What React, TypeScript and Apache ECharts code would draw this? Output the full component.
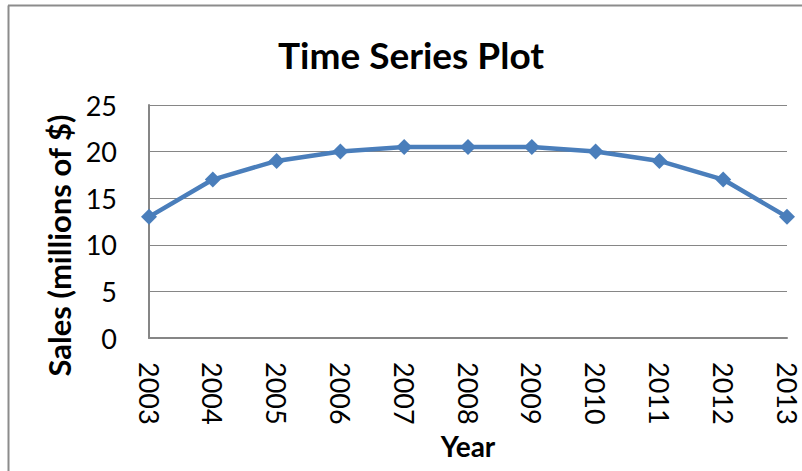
import React, { useEffect, useRef } from "react";
import * as echarts from "echarts";

const years = ["2003", "2004", "2005", "2006", "2007", "2008", "2009", "2010", "2011", "2012", "2013"];
const sales = [13, 17, 19, 20, 20.5, 20.5, 20.5, 20, 19, 17, 13];
const titleText = "Time Series Plot";
const yName = "Sales (millions of $)";
const xName = "Year";

const FONT = "Lato, 'Open Sans', sans-serif";

export default function App() {
  const ref = useRef<HTMLDivElement>(null);
  useEffect(() => {
    const chart = echarts.init(ref.current!, null, { renderer: "svg" });
    chart.setOption({
      animation: false,
      backgroundColor: "#ffffff",
      textStyle: { fontFamily: FONT },
      graphic: [
        { type: "line", shape: { x1: 8.5, y1: 5.5, x2: 8.5, y2: 480 }, style: { stroke: "#8c8c8c", lineWidth: 2 } },
        { type: "line", shape: { x1: 8, y1: 5.5, x2: 810, y2: 5.5 }, style: { stroke: "#8c8c8c", lineWidth: 2 } },
        {
          type: "text",
          x: 411,
          y: 54,
          style: {
            text: titleText,
            font: `bold 37px ${FONT}`,
            fill: "#000",
            textAlign: "center",
            textVerticalAlign: "middle",
          },
        },
      ],
      grid: { left: 149, right: 15, top: 105, bottom: 133, containLabel: false },
      xAxis: {
        type: "category",
        data: years,
        boundaryGap: false,
        name: xName,
        nameLocation: "middle",
        nameGap: 94,
        nameTextStyle: { fontFamily: FONT, fontWeight: "bold", fontSize: 28, color: "#000" },
        axisLine: { show: true, lineStyle: { color: "#868686", width: 2 } },
        axisTick: { show: false },
        axisLabel: { rotate: -90, margin: 24, fontSize: 27, color: "#000", fontFamily: FONT, interval: 0 },
        splitLine: { show: false },
      },
      yAxis: {
        type: "value",
        min: 0,
        max: 25,
        interval: 5,
        name: yName,
        nameLocation: "middle",
        nameGap: 74,
        nameTextStyle: { fontFamily: FONT, fontWeight: "bold", fontSize: 31, color: "#000", padding: [0, 48, 0, 0] },
        axisLine: { show: true, lineStyle: { color: "#868686", width: 2 } },
        axisTick: { show: false },
        axisLabel: { margin: 32, fontSize: 27, color: "#000", fontFamily: FONT },
        splitLine: { show: true, lineStyle: { color: "#868686", width: 1 } },
      },
      series: [
        {
          type: "line",
          data: sales,
          symbol: "diamond",
          symbolSize: 16,
          lineStyle: { color: "#4A7EBB", width: 4.5 },
          itemStyle: { color: "#4A7EBB" },
        },
      ],
    });
    return () => chart.dispose();
  }, []);
  return <div ref={ref} style={{ position: "fixed", left: 0, top: 0, width: 802, height: 471 }} />;
}
